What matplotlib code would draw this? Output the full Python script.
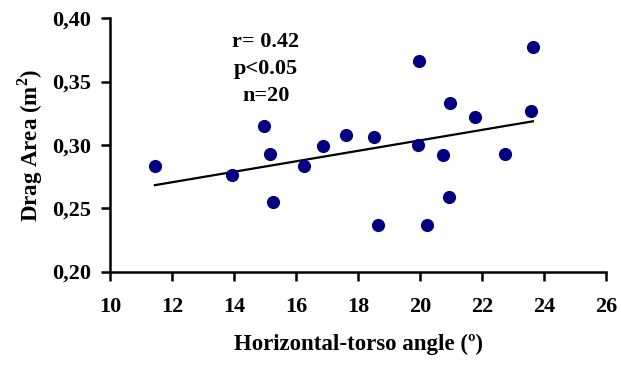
import numpy as np
import matplotlib
matplotlib.use("Agg")
import matplotlib.pyplot as plt
from matplotlib.ticker import FuncFormatter

# horizontal-torso angle (deg) and drag area (m^2), n = 20
angle = [11.45, 13.93, 14.98, 15.16, 15.27, 16.26, 16.86, 17.61, 18.52, 18.66,
         19.97, 19.94, 20.73, 20.97, 20.94, 20.24, 21.77, 22.74, 23.64, 23.58]
drag_area = [0.283, 0.276, 0.315, 0.293, 0.255, 0.283, 0.299, 0.308, 0.306, 0.237,
             0.366, 0.300, 0.292, 0.333, 0.259, 0.237, 0.322, 0.293, 0.377, 0.327]

x_ticks = [10, 12, 14, 16, 18, 20, 22, 24, 26]
y_ticks = [0.20, 0.25, 0.30, 0.35, 0.40]

plt.rcParams['font.family'] = ['Liberation Serif', 'DejaVu Serif']
plt.rcParams['font.weight'] = 'bold'
plt.rcParams['mathtext.fontset'] = 'custom'
plt.rcParams['mathtext.bf'] = 'Liberation Serif:bold'
plt.rcParams['mathtext.rm'] = 'Liberation Serif:bold'

fig = plt.figure(figsize=(6.21, 3.65), dpi=100)
ax = fig.add_axes([0.177, 0.256, 0.799, 0.694])

ax.scatter(angle, drag_area, s=90, color='#000080', zorder=3, linewidths=0)

# least squares line over the data range
slope, intercept = np.polyfit(angle, drag_area, 1)
xs = np.array([min(angle), max(angle)])
ax.plot(xs, slope * xs + intercept, color='black', lw=1.6, zorder=2)

ax.set_xlim(10, 26)
ax.set_ylim(0.20, 0.40)
ax.set_xticks(x_ticks)
ax.set_yticks(y_ticks)
ax.yaxis.set_major_formatter(FuncFormatter(lambda v, p: '{:.2f}'.format(v).replace('.', ',')))

for side in ['top', 'right']:
    ax.spines[side].set_visible(False)
for side in ['left', 'bottom']:
    ax.spines[side].set_linewidth(1.8)
ax.tick_params(axis='both', width=1.8, length=6.5, labelsize=16, direction='out')
ax.tick_params(axis='x', pad=12)
ax.tick_params(axis='y', pad=7)

ax.set_xlabel('Horizontal-torso angle (º)', fontsize=16.5, fontweight='bold', labelpad=12)
ax.set_ylabel('Drag Area (m$^{2}$)', fontsize=16.5, fontweight='bold', labelpad=5)

ax.text(0.314, 0.80, 'r= 0.42\np<0.05\nn=20', transform=ax.transAxes, ha='center',
        va='center', fontsize=16, fontweight='bold', linespacing=1.45)

fig.savefig('out.png', dpi=100)
